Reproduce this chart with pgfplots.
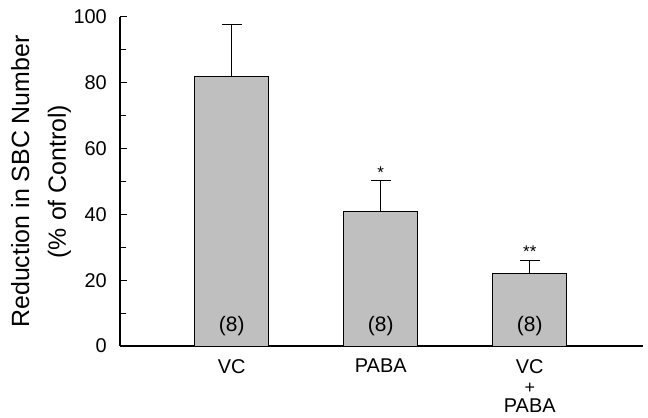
\documentclass[border=0pt]{standalone}
\usepackage{pgfplots}
\pgfplotsset{compat=1.18}
\usepackage{fontspec}
\setmainfont{Liberation Sans}
\begin{document}
\begin{tikzpicture}
\useasboundingbox (-120bp,-72bp) rectangle (528bp,346bp);
\begin{axis}[
 at={(0,0)}, anchor=south west,
 scale only axis, width=523bp, height=329bp,
 xmin=-0.75, xmax=2.76, ymin=0, ymax=100,
 axis lines=left, axis line style={-, line width=1.1bp},
 ytick={0,20,...,100}, minor ytick={10,30,...,90},
 tick align=inside, major tick length=7bp, minor tick length=6bp,
 tick style={line width=1bp, black},
 xtick={0,1,2}, xticklabels={VC,PABA,{VC\\{\fontsize{18}{18}\selectfont +}\\PABA}},
 x tick style={draw=none},
 xticklabel style={align=center, font=\fontsize{20}{20}\selectfont, anchor=north, inner sep=0pt, yshift=-13bp},
 yticklabel style={font=\fontsize{20}{20}\selectfont, anchor=east, inner sep=0pt, xshift=-13bp},
 /pgf/number format/assume math mode=true,
 ylabel={Reduction in SBC Number\\(\% of Control)},
 ylabel style={at={(axis description cs:-0.151,0.5)}, anchor=center, align=center, font=\fontsize{25}{37}\selectfont},
 clip=false,
]
\addplot[ybar, bar width=74bp, fill=black!25, draw=black, line width=1bp,
 error bars/.cd, y dir=plus, y explicit, error bar style={line width=1bp},
 error mark options={rotate=90, mark size=10bp, line width=1bp}]
 coordinates {(0,82) +- (0,15.6) (1,41) +- (0,9.2) (2,22) +- (0,4.1)};
\node[font=\fontsize{21}{21}\selectfont] at (axis cs:0,6.1) {(8)};
\node[font=\fontsize{21}{21}\selectfont] at (axis cs:1,6.1) {(8)};
\node[font=\fontsize{21}{21}\selectfont] at (axis cs:2,6.1) {(8)};
\node[font=\fontsize{17}{17}\selectfont, anchor=base] at (axis cs:1,51.0) {*};
\node[font=\fontsize{17}{17}\selectfont, anchor=base] at (axis cs:2,27.0) {**};
\end{axis}
\end{tikzpicture}
\end{document}
